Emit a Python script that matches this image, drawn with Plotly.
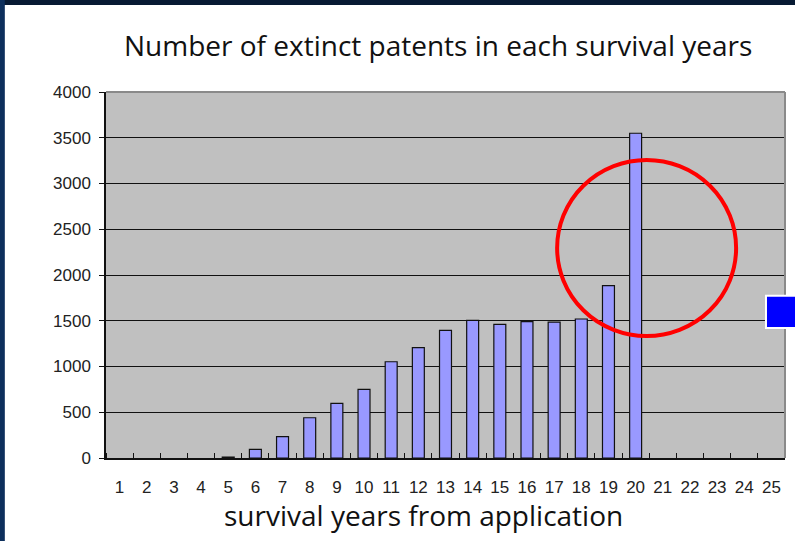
import plotly.graph_objects as go

# survival years (categories) and number of extinct patents (None = no bar)
years = list(range(1, 26))
extinct = [None, None, None, None, 10, 95, 233, 440, 598, 750, 1052, 1206, 1395, 1505,
           1461, 1490, 1486, 1519, 1883, 3549, None, None, None, None, None]
year_labels = [str(y) for y in years]

title_text = 'Number of extinct patents in each survival years'
xtitle_text = 'survival years from application'

fig = go.Figure()
fig.add_trace(go.Bar(
    x=years, y=extinct,
    width=0.44,
    marker=dict(color='#9999ff', line=dict(color='#111111', width=1.2)),
    showlegend=False,
))

fig.update_layout(
    width=795, height=541,
    margin=dict(l=106, r=10, t=92, b=83),
    paper_bgcolor='white',
    plot_bgcolor='#c0c0c0',
    bargap=0.55,
)

fig.update_yaxes(
    range=[0, 4000], dtick=500,
    showgrid=True, gridcolor='#111111', gridwidth=1.2,
    showline=True, linecolor='#111111', linewidth=1.5,
    ticks='outside', ticklen=5, tickcolor='#111111',
    ticklabelstandoff=5,
    tickfont=dict(family='Liberation Sans, Arial', size=17, color='#222222'),
    zeroline=False,
)
fig.update_xaxes(
    range=[0.5, 25.5], tickvals=years, ticktext=year_labels,
    showgrid=False, zeroline=False,
    showline=True, linecolor='#111111', linewidth=2,
    ticks='outside', ticklen=13, tickcolor='rgba(0,0,0,0)',
    tickfont=dict(family='Liberation Sans, Arial', size=17, color='#222222'),
    minor=dict(tick0=0.5, dtick=1, ticks='inside', ticklen=5,
               tickcolor='#111111', tickwidth=1.2, showgrid=False),
)

# titles
fig.add_annotation(text=title_text, xref='paper', yref='paper',
                   x=0.489, y=1.128, showarrow=False,
                   xanchor='center', yanchor='middle',
                   font=dict(family='Open Sans', size=28, color='#111111'))
fig.add_annotation(text=xtitle_text, xref='paper', yref='paper',
                   x=0.468, y=-0.156, showarrow=False,
                   xanchor='center', yanchor='middle',
                   font=dict(family='Open Sans', size=28, color='#111111'))

# plot area top/right border
fig.add_shape(type='line', xref='paper', yref='paper', x0=0, x1=1, y0=1, y1=1,
              line=dict(color='#8a8a8a', width=2))
fig.add_shape(type='line', xref='paper', yref='paper', x0=1, x1=1, y0=0, y1=1,
              line=dict(color='#8a8a8a', width=2))

# red highlight circle
fig.add_shape(type='circle', xref='x', yref='y', x0=17.11, x1=23.7, y0=1333, y1=3257,
              line=dict(color='#ff0000', width=4))

# blue square at the right edge
fig.add_shape(type='rect', xref='paper', yref='paper', x0=0.972, x1=1.03, y0=0.355, y1=0.443,
              fillcolor='#0000ff', line=dict(color='white', width=2))

# dark slide frame (top and left)
fig.add_shape(type='rect', xref='paper', yref='paper', x0=-0.2, x1=1.1, y0=1.238, y1=1.3,
              fillcolor='#071a33', line=dict(width=0))
fig.add_shape(type='rect', xref='paper', yref='paper', x0=-0.2, x1=-0.149, y0=-0.3, y1=1.3,
              fillcolor='#0d2f5c', line=dict(width=0))

fig.write_html("out.html", config={'displayModeBar': False},
               post_script="document.body.style.margin='0';")
